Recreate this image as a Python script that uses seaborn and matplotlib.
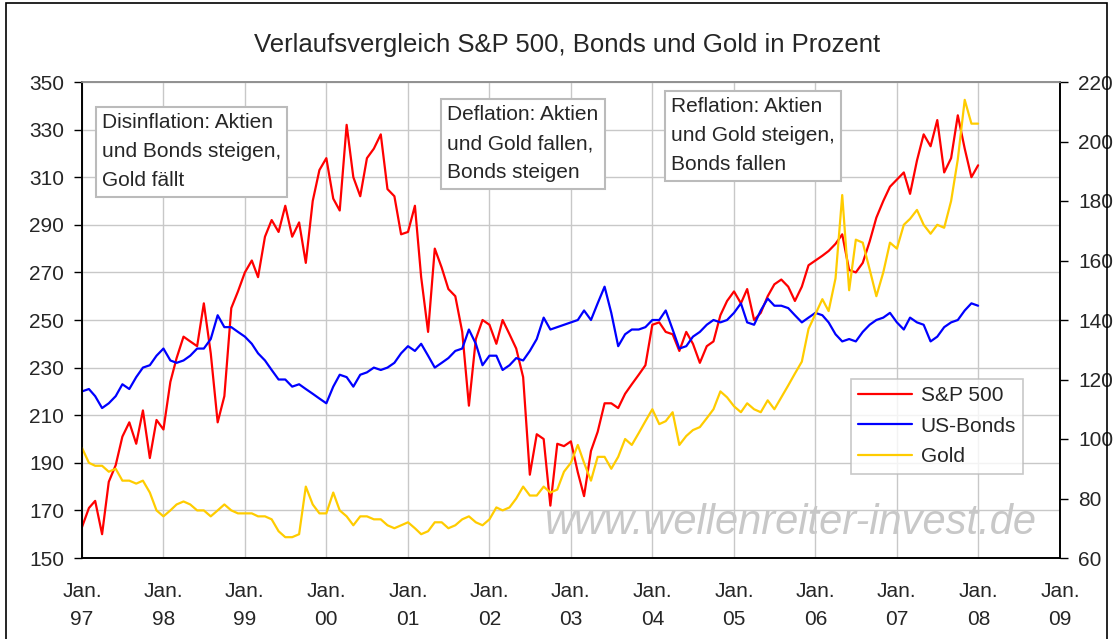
import numpy as np
import pandas as pd
import seaborn as sns
import matplotlib.pyplot as plt
import matplotlib.dates as mdates
from matplotlib.lines import Line2D
from matplotlib.patches import Rectangle

# monthly readings, Jan 1997 .. Dec 2007, plus the last trading day of 2007
sp500 = [163, 171, 174, 160, 182, 189, 201, 207, 198, 212, 192, 208,   # 97
         204, 224, 234, 243, 241, 239, 257, 236, 207, 218, 255, 262,   # 98
         270, 275, 268, 285, 292, 287, 298, 285, 291, 274, 300, 313,   # 99
         318, 301, 296, 332, 310, 302, 318, 322, 328, 305, 302, 286,   # 00
         287, 298, 268, 245, 280, 272, 263, 260, 245, 214, 242, 250,   # 01
         248, 240, 250, 244, 238, 226, 185, 202, 200, 172, 198, 197,   # 02
         199, 186, 176, 195, 203, 215, 215, 213, 219, 223, 227, 231,   # 03
         248, 249, 245, 244, 237, 245, 240, 232, 239, 241, 252, 258,   # 04
         262, 257, 263, 250, 253, 260, 265, 267, 264, 258, 264, 273,   # 05
         275, 277, 279, 282, 286, 271, 270, 274, 283, 293, 300, 306,   # 06
         309, 312, 303, 317, 328, 323, 334, 312, 318, 336, 322, 310,   # 07
         315]
bonds = [220, 221, 218, 213, 215, 218, 223, 221, 226, 230, 231, 235,
         238, 233, 232, 233, 235, 238, 238, 242, 252, 247, 247, 245,
         243, 240, 236, 233, 229, 225, 225, 222, 223, 221, 219, 217,
         215, 222, 227, 226, 222, 227, 228, 230, 229, 230, 232, 236,
         239, 237, 240, 235, 230, 232, 234, 237, 238, 246, 240, 231,
         235, 235, 229, 231, 234, 233, 237, 242, 251, 246, 247, 248,
         249, 250, 254, 250, 257, 264, 253, 239, 244, 246, 246, 247,
         250, 250, 254, 246, 238, 239, 243, 245, 248, 250, 249, 250,
         253, 257, 249, 248, 254, 259, 256, 256, 255, 252, 249, 251,
         253, 252, 249, 244, 241, 242, 241, 245, 248, 250, 251, 253,
         249, 246, 251, 249, 248, 241, 243, 247, 249, 250, 254, 257,
         256]
# gold is read on the right-hand scale
gold = [97, 92, 91, 91, 89, 90, 86, 86, 85, 86, 82, 76,
        74, 76, 78, 79, 78, 76, 76, 74, 76, 78, 76, 75,
        75, 75, 74, 74, 73, 69, 67, 67, 68, 84, 78, 75,
        75, 82, 76, 74, 71, 74, 74, 73, 73, 71, 70, 71,
        72, 70, 68, 69, 72, 72, 70, 71, 73, 74, 72, 71,
        73, 77, 76, 77, 80, 84, 81, 81, 84, 82, 83, 89,
        92, 98, 92, 86, 94, 94, 90, 94, 100, 98, 102, 106,
        110, 105, 106, 109, 98, 101, 103, 104, 107, 110, 116, 114,
        111, 109, 112, 110, 109, 113, 110, 114, 118, 122, 126, 137,
        142, 147, 143, 154, 182, 150, 167, 166, 157, 148, 156, 166,
        164, 172, 174, 177, 172, 169, 172, 171, 180, 194, 214, 206,
        206]
dates = list(pd.date_range("1997-01-01", "2007-12-01", freq="MS")) + [pd.Timestamp("2007-12-31")]

notes = ["Disinflation: Aktien\nund Bonds steigen,\nGold fällt",
         "Deflation: Aktien\nund Gold fallen,\nBonds steigen",
         "Reflation: Aktien\nund Gold steigen,\nBonds fallen"]
labels = ["S&P 500", "US-Bonds", "Gold"]
colors = ["#ff0000", "#0000ff", "#ffcc00"]

df = pd.DataFrame({"date": dates, "sp500": sp500, "bonds": bonds, "gold": gold})

sns.set_style("white")
plt.rcParams["font.family"] = ["Liberation Sans", "DejaVu Sans"]

W, H = 1113, 639
fig = plt.figure(figsize=(W / 100, H / 100), dpi=100)
ax = fig.add_axes([82 / W, 1 - 558 / H, 978 / W, 476 / H])
ax2 = ax.twinx()

sns.lineplot(data=df, x="date", y="sp500", ax=ax, color=colors[0], lw=1.6)
sns.lineplot(data=df, x="date", y="bonds", ax=ax, color=colors[1], lw=1.6)
sns.lineplot(data=df, x="date", y="gold", ax=ax2, color=colors[2], lw=1.6)

ax.set_xlim(pd.Timestamp("1997-01-01"), pd.Timestamp("2009-01-01"))
ax.set_ylim(150, 350)
ax.set_yticks(np.arange(150, 351, 20))
ax2.set_ylim(60, 220)
ax2.set_yticks(np.arange(60, 221, 20))
ax.xaxis.set_major_locator(mdates.YearLocator())
ax.xaxis.set_major_formatter(mdates.DateFormatter("Jan.\n%y"))
for a in (ax, ax2):
    a.set_xlabel("")
    a.set_ylabel("")
ax.grid(True, color="#c8c8c8", lw=1)
ax.tick_params(axis="both", labelsize=15, length=6, width=1, color="black", direction="out")
ax.tick_params(axis="y", pad=7)
ax.tick_params(axis="x", pad=11)
ax2.tick_params(axis="y", labelsize=15, length=6, width=1, color="black", direction="out", pad=7)
for lab in ax.get_xticklabels():
    lab.set_linespacing(1.6)
for a in (ax, ax2):
    for s in a.spines.values():
        s.set_color("black")
        s.set_linewidth(1.2)
    a.spines["top"].set_color("#909090")

# notes
box = dict(boxstyle="square,pad=0.3", fc="white", ec="#bbbbbb", lw=1.5)
spots = [(102, 113), (447, 105), (671, 97)]
for txt, (px, py) in zip(notes, spots):
    ax2.text((px - 82) / 978, (558 - py) / 476, txt, transform=ax.transAxes, ha="left", va="top",
             fontsize=15, linespacing=1.68, bbox=box, zorder=5)

# watermark
ax.text((791 - 82) / 978, (558 - 523) / 476, "www.wellenreiter-invest.de", transform=ax.transAxes,
        ha="center", va="center", fontsize=30, style="italic", color="#c8c8c8", zorder=0)

handles = [Line2D([], [], color=c, lw=1.6) for c in colors]
leg = ax2.legend(handles, labels, loc="upper left", bbox_to_anchor=((851 - 82) / 978, (558 - 379) / 476),
                 fontsize=15, frameon=True, fancybox=False, handlelength=2.6, borderpad=0.35,
                 labelspacing=0.55, handletextpad=0.4, borderaxespad=0)
leg.get_frame().set_edgecolor("#bbbbbb")
leg.get_frame().set_linewidth(1.2)

fig.text(567 / W, 1 - 45 / H, "Verlaufsvergleich S&P 500, Bonds und Gold in Prozent",
         ha="center", va="center", fontsize=18.5)

fig.patches.append(Rectangle((6 / W, -0.05), (1107 - 6) / W, 1.05 - 3 / H, transform=fig.transFigure,
                             fill=False, ec="black", lw=1.2))

fig.savefig("out.png", dpi=100)
